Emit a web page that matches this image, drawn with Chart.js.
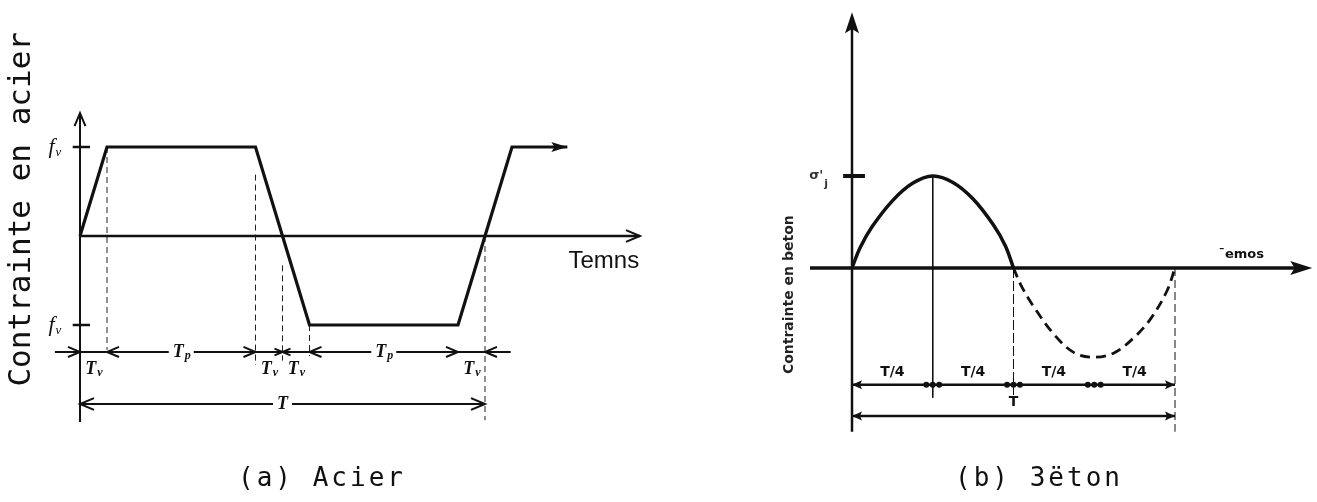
<!DOCTYPE html>
<html lang="fr">
<head>
<meta charset="utf-8">
<title>Contrainte - acier et béton</title>
<script src="https://cdn.jsdelivr.net/npm/chart.js@4.4.1/dist/chart.umd.min.js"></script>
<style>
  html, body { margin: 0; padding: 0; background: #fff; }
  #page { position: relative; width: 1317px; height: 502px; overflow: hidden; }
  canvas { position: absolute; top: 0; }
  #graphe-acier { left: 0; }
  #graphe-beton { left: 660px; }
  .legende {
    position: absolute; top: 464px; font-family: "DejaVu Sans Mono", monospace;
    font-size: 26px; line-height: 26px; letter-spacing: 3px; color: #111;
    white-space: nowrap; transform: translateX(-50%);
  }
</style>
</head>
<body>
<div id="page">
  <canvas id="graphe-acier" width="660" height="502"></canvas>
  <canvas id="graphe-beton" width="657" height="502"></canvas>
  <div class="legende" style="left:322px">(a) Acier</div>
  <div class="legende" style="left:1039px">(b) 3ëton</div>
</div>
<script>
// --- (a) acier : temps en unités de T_v, contrainte en unités de f_v
const acierTemps = [0, 1, 6.5, 7.5, 8.5, 14, 15, 16, 18.05];
const acierContrainte = [0, 1, 1, 0, -1, -1, 0, 1, 1];
const acierReperes = [0, 1, 6.5, 7.5, 8.5, 14, 15];
const acierCotesTexte = ['v', 'p', 'v', 'v', 'p', 'v'];
const acierNiveaux = [1, -1];

// --- (b) béton : temps en unités de T/4, contrainte en unités de σ'j
const betonTempsPos = [0, 0.1, 0.25, 0.5, 0.75, 1, 1.25, 1.5, 1.75, 1.9, 2];
const betonContraintePos = [0, 0.22, 0.45, 0.73, 0.92, 1, 0.93, 0.75, 0.47, 0.24, 0];
const betonTempsNeg = [2, 2.1, 2.25, 2.5, 2.75, 3, 3.25, 3.5, 3.7, 3.9, 4];
const betonContrainteNeg = [0, -0.2, -0.42, -0.72, -0.92, -0.97, -0.92, -0.75, -0.55, -0.25, 0];
const betonQuarts = [0, 1, 2, 3, 4];
const betonCotes = ['T/4', 'T/4', 'T/4', 'T/4'];

const NOIR = '#111';

function trait(xs, ys, style) {
    return Object.assign({
        data: xs.map((x, i) => ({ x: x, y: ys[i] })),
        showLine: true, pointRadius: 0, borderColor: NOIR, borderWidth: 2, fill: false, tension: 0
    }, style || {});
}

// fleches et textes dessines en coordonnees de donnees
function pluginDessin(fleches, textes) {
    return {
        id: 'dessin',
        afterDatasetsDraw(chart) {
            const ctx = chart.ctx, sx = chart.scales.x, sy = chart.scales.y;
            fleches.forEach(f => {
                ctx.save();
                ctx.translate(sx.getPixelForValue(f.x), sy.getPixelForValue(f.y));
                ctx.rotate(f.angle || 0);
                ctx.strokeStyle = NOIR;
                ctx.fillStyle = NOIR;
                ctx.beginPath();
                if (f.type === 'ouverte') {
                    ctx.lineWidth = f.epaisseur || 2;
                    ctx.moveTo(-f.taille, -f.taille * 0.42);
                    ctx.lineTo(0, 0);
                    ctx.lineTo(-f.taille, f.taille * 0.42);
                    ctx.stroke();
                } else if (f.type === 'pleine') {
                    ctx.moveTo(0, 0);
                    ctx.lineTo(-f.taille, -f.largeur);
                    ctx.lineTo(-f.taille * 0.8, 0);
                    ctx.lineTo(-f.taille, f.largeur);
                    ctx.closePath();
                    ctx.fill();
                } else {
                    ctx.arc(0, 0, f.taille, 0, Math.PI * 2);
                    ctx.fill();
                }
                ctx.restore();
            });
            textes.forEach(t => {
                ctx.save();
                ctx.translate(sx.getPixelForValue(t.x), sy.getPixelForValue(t.y));
                if (t.rotation) ctx.rotate(t.rotation);
                ctx.textBaseline = 'middle';
                ctx.textAlign = 'left';
                ctx.font = t.police;
                const l1 = ctx.measureText(t.texte).width;
                let l2 = 0;
                if (t.indice) {
                    ctx.font = t.policeIndice;
                    l2 = ctx.measureText(t.indice).width;
                }
                const debut = -(l1 + l2) / 2;
                if (t.fond) {
                    ctx.fillStyle = '#fff';
                    ctx.fillRect(debut - 4, -9, l1 + l2 + 8, 18);
                }
                ctx.fillStyle = t.couleur || NOIR;
                ctx.font = t.police;
                ctx.fillText(t.texte, debut, 0);
                if (t.indice) {
                    ctx.font = t.policeIndice;
                    ctx.fillText(t.indice, debut + l1 + 1, t.decalage || 5);
                }
                ctx.restore();
            });
        }
    };
}

function options(xmin, xmax, ymin, ymax) {
    return {
        responsive: false, animation: false, devicePixelRatio: 1,
        layout: { padding: 0 },
        scales: {
            x: { type: 'linear', display: false, min: xmin, max: xmax },
            y: { type: 'linear', display: false, min: ymin, max: ymax }
        },
        plugins: { legend: { display: false }, tooltip: { enabled: false } }
    };
}

// ================= (a) Acier =================
const yCote1 = -1.303, yCote2 = -1.888;
const policeT = 'italic bold 18px "Liberation Serif"';
const policeV = 'italic bold 12px "Liberation Serif"';

const dsAcier = [
    trait([0, 0], [-2.09, 1.38], { borderWidth: 2 }),
    trait([0, 20.74], [0, 0], { borderWidth: 2.5 }),
    trait(acierTemps, acierContrainte, { borderWidth: 3.2 }),
    trait([-0.93, 15.95], [yCote1, yCote1], { borderWidth: 2 }),
    trait([0, 15], [yCote2, yCote2], { borderWidth: 2 })
];
acierNiveaux.forEach(n => dsAcier.push(trait([-0.27, 0.37], [n, n], { borderWidth: 2.5 })));
// lignes de rappel
[[1, 1, -1.28], [6.5, 0.69, -1.45], [7.5, -0.33, -1.4], [8.5, -1, -1.35], [15, 0, -2.07]].forEach(r => {
    dsAcier.push(trait([r[0], r[0]], [r[1], r[2]], { borderWidth: 1, borderDash: [6, 4], borderColor: '#222' }));
});

const flechesAcier = [
    { x: 0, y: 1.38, angle: -Math.PI / 2, type: 'ouverte', taille: 13 },
    { x: 20.74, y: 0, angle: 0, type: 'ouverte', taille: 14 },
    { x: 18.05, y: 1, angle: 0, type: 'pleine', taille: 16, largeur: 5 },
    { x: 0, y: yCote1, angle: 0, type: 'ouverte', taille: 12 },
    { x: 1, y: yCote1, angle: Math.PI, type: 'ouverte', taille: 12 },
    { x: 6.5, y: yCote1, angle: 0, type: 'ouverte', taille: 12 },
    { x: 7.5, y: yCote1, angle: Math.PI, type: 'ouverte', taille: 8 },
    { x: 7.5, y: yCote1, angle: 0, type: 'ouverte', taille: 8 },
    { x: 8.5, y: yCote1, angle: Math.PI, type: 'ouverte', taille: 12 },
    { x: 14, y: yCote1, angle: 0, type: 'ouverte', taille: 12 },
    { x: 15, y: yCote1, angle: Math.PI, type: 'ouverte', taille: 12 },
    { x: 0, y: yCote2, angle: Math.PI, type: 'ouverte', taille: 14 },
    { x: 15, y: yCote2, angle: 0, type: 'ouverte', taille: 14 }
];

const textesAcier = [
    { texte: 'Contrainte en acier', x: -2.15, y: 0.3, rotation: -Math.PI / 2, police: '31px "DejaVu Sans Mono"' },
    { texte: 'Temns', x: 19.4, y: -0.29, police: '24px "Liberation Sans"' },
    { texte: 'T', x: 7.5, y: yCote2, police: policeT, fond: true }
];
acierNiveaux.forEach(n => textesAcier.push({
    texte: 'f', indice: 'v', x: -0.95, y: n, police: 'italic 22px "Liberation Serif"',
    policeIndice: 'italic 13px "Liberation Serif"', decalage: 6
}));
acierCotesTexte.forEach((ind, i) => {
    const milieu = (acierReperes[i] + acierReperes[i + 1]) / 2;
    const enLigne = ind === 'p';
    textesAcier.push({
        texte: 'T', indice: ind, x: milieu, y: enLigne ? yCote1 : yCote1 - 0.19,
        police: policeT, policeIndice: policeV, fond: enLigne, decalage: 4
    });
});

new Chart(document.getElementById('graphe-acier'), {
    type: 'scatter',
    data: { datasets: dsAcier },
    options: options(-80 / 27, -80 / 27 + 660 / 27, 236 / 89 - 502 / 89, 236 / 89),
    plugins: [pluginDessin(flechesAcier, textesAcier)]
});

// ================= (b) Béton =================
const yQuart = -1.27, yPeriode = -1.61;
const policeB = 'bold 14px "DejaVu Sans"';

const dsBeton = [
    trait([0, 0], [-1.78, 2.6], { borderWidth: 2.5 }),
    trait([-0.52, 5.5], [0, 0], { borderWidth: 3.5 }),
    trait([-0.11, 0.16], [1, 1], { borderWidth: 4 }),
    trait(betonTempsPos, betonContraintePos, { borderWidth: 3.5, tension: 0.35 }),
    trait(betonTempsNeg, betonContrainteNeg, { borderWidth: 2.8, borderDash: [10, 6], tension: 0.35 }),
    trait([0, 4], [yQuart, yQuart], { borderWidth: 2.5 }),
    trait([0, 4], [yPeriode, yPeriode], { borderWidth: 2.5 }),
    trait([1, 1], [1, -1.41], { borderWidth: 1 }),
    trait([2, 2], [0, -1.41], { borderWidth: 1, borderDash: [10, 3] }),
    trait([4, 4], [0, -1.78], { borderWidth: 1, borderDash: [8, 4] })
];

const flechesBeton = [
    { x: 0, y: 2.78, angle: -Math.PI / 2, type: 'pleine', taille: 21, largeur: 7 },
    { x: 5.7, y: 0, angle: 0, type: 'pleine', taille: 22, largeur: 7 },
    { x: 0, y: yQuart, angle: Math.PI, type: 'pleine', taille: 10, largeur: 4.5 },
    { x: 4, y: yQuart, angle: 0, type: 'pleine', taille: 10, largeur: 4.5 },
    { x: 0, y: yPeriode, angle: Math.PI, type: 'pleine', taille: 10, largeur: 4.5 },
    { x: 4, y: yPeriode, angle: 0, type: 'pleine', taille: 10, largeur: 4.5 }
];
betonQuarts.slice(1, 4).forEach(q => {
    [-0.08, 0, 0.08].forEach(d => flechesBeton.push({ x: q + d, y: yQuart, type: 'point', taille: 3 }));
});

const textesBeton = [
    { texte: 'Contrainte en beton', x: -0.77, y: -0.29, rotation: -Math.PI / 2, police: 'bold 14px "DejaVu Sans"', couleur: '#222' },
    { texte: "σ'", indice: 'j', x: -0.42, y: 1.0, police: 'bold 13px "DejaVu Sans"', policeIndice: 'bold 11px "DejaVu Sans"', decalage: 8, couleur: '#333' },
    { texte: 'ˉemos', x: 4.82, y: 0.14, police: 'bold 13px "DejaVu Sans"' },
    { texte: 'T', x: 2, y: yPeriode + 0.15, police: policeB }
];
betonCotes.forEach((c, i) => textesBeton.push({
    texte: c, x: (betonQuarts[i] + betonQuarts[i + 1]) / 2, y: yQuart + 0.14, police: policeB
}));

new Chart(document.getElementById('graphe-beton'), {
    type: 'scatter',
    data: { datasets: dsBeton },
    options: options(-192 / 80.75, -192 / 80.75 + 657 / 80.75, 268 / 92 - 502 / 92, 268 / 92),
    plugins: [pluginDessin(flechesBeton, textesBeton)]
});
</script>
</body>
</html>
